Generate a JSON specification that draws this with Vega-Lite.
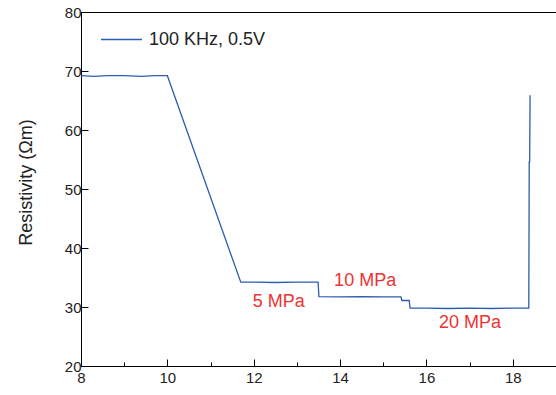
{
  "$schema": "https://vega.github.io/schema/vega-lite/v6.json",
  "autosize": "none",
  "width": 475,
  "height": 354,
  "padding": {"left": 81, "top": 12, "right": 0, "bottom": 29},
  "background": "white",
  "config": {
    "font": "Liberation Sans",
    "view": {"stroke": "black", "strokeWidth": 1},
    "axis": {"domainColor": "black", "tickColor": "black", "labelColor": "#222", "titleColor": "#222", "grid": false, "labelFontSize": 15, "titleFontSize": 18, "titleFontWeight": "normal"}
  },
  "datasets": {
    "series": [
      {"x": 8.0, "y": 69.2, "s": "100 KHz, 0.5V"},
      {"x": 8.3, "y": 69.1, "s": "100 KHz, 0.5V"},
      {"x": 8.6, "y": 69.2, "s": "100 KHz, 0.5V"},
      {"x": 9.0, "y": 69.2, "s": "100 KHz, 0.5V"},
      {"x": 9.4, "y": 69.1, "s": "100 KHz, 0.5V"},
      {"x": 9.7, "y": 69.2, "s": "100 KHz, 0.5V"},
      {"x": 10.0, "y": 69.2, "s": "100 KHz, 0.5V"},
      {"x": 11.7, "y": 34.2, "s": "100 KHz, 0.5V"},
      {"x": 12.0, "y": 34.2, "s": "100 KHz, 0.5V"},
      {"x": 12.5, "y": 34.15, "s": "100 KHz, 0.5V"},
      {"x": 13.0, "y": 34.2, "s": "100 KHz, 0.5V"},
      {"x": 13.49, "y": 34.2, "s": "100 KHz, 0.5V"},
      {"x": 13.51, "y": 31.75, "s": "100 KHz, 0.5V"},
      {"x": 14.0, "y": 31.7, "s": "100 KHz, 0.5V"},
      {"x": 14.5, "y": 31.75, "s": "100 KHz, 0.5V"},
      {"x": 15.0, "y": 31.7, "s": "100 KHz, 0.5V"},
      {"x": 15.41, "y": 31.7, "s": "100 KHz, 0.5V"},
      {"x": 15.43, "y": 31.1, "s": "100 KHz, 0.5V"},
      {"x": 15.6, "y": 31.1, "s": "100 KHz, 0.5V"},
      {"x": 15.62, "y": 29.8, "s": "100 KHz, 0.5V"},
      {"x": 16.0, "y": 29.8, "s": "100 KHz, 0.5V"},
      {"x": 16.5, "y": 29.75, "s": "100 KHz, 0.5V"},
      {"x": 17.0, "y": 29.8, "s": "100 KHz, 0.5V"},
      {"x": 17.5, "y": 29.75, "s": "100 KHz, 0.5V"},
      {"x": 18.0, "y": 29.8, "s": "100 KHz, 0.5V"},
      {"x": 18.37, "y": 29.8, "s": "100 KHz, 0.5V"},
      {"x": 18.38, "y": 54.6, "s": "100 KHz, 0.5V"},
      {"x": 18.39, "y": 54.6, "s": "100 KHz, 0.5V"},
      {"x": 18.4, "y": 65.9, "s": "100 KHz, 0.5V"}
    ],
    "labels": [
      {"x": 12.58, "y": 30.9, "t": "5 MPa"},
      {"x": 14.58, "y": 34.4, "t": "10 MPa"},
      {"x": 17.01, "y": 27.3, "t": "20 MPa"}
    ]
  },
  "layer": [
    {
      "data": {"name": "series"},
      "mark": {"type": "line", "strokeWidth": 1.3, "clip": true},
      "encoding": {
        "x": {
          "field": "x", "type": "quantitative",
          "scale": {"domain": [8, 19], "nice": false, "zero": false},
          "axis": {
            "title": null, "values": [8, 9, 10, 11, 12, 13, 14, 15, 16, 17, 18, 19],
            "labelExpr": "datum.value % 2 === 0 ? datum.label : ''",
            "tickSize": {"condition": {"test": "datum.value % 2 === 0", "value": -7}, "value": -4},
            "labelPadding": 11, "labelFlush": false
          }
        },
        "y": {
          "field": "y", "type": "quantitative",
          "scale": {"domain": [20, 80], "nice": false, "zero": false},
          "axis": {
            "title": "Resistivity (Ωm)",
            "values": [20, 25, 30, 35, 40, 45, 50, 55, 60, 65, 70, 75, 80],
            "labelExpr": "datum.value % 10 === 0 ? datum.label : ''",
            "tickSize": {"condition": {"test": "datum.value % 10 === 0", "value": -7}, "value": -4},
            "labelPadding": 7, "labelFlush": false,
            "titleX": -55, "titleY": 170, "titleBaseline": "middle", "titleAlign": "center", "titleAngle": -90
          }
        },
        "color": {
          "field": "s", "type": "nominal",
          "scale": {"range": ["#2d5cb0"]},
          "legend": {"title": null, "orient": "none", "legendX": 19, "legendY": 6, "labelFontSize": 18, "labelColor": "#222", "symbolType": "stroke", "symbolSize": 1681, "symbolStrokeWidth": 1.3, "labelOffset": 6, "padding": 0}
        }
      }
    },
    {
      "data": {"name": "labels"},
      "mark": {"type": "text", "fontSize": 18, "color": "#ee3333", "align": "center", "baseline": "middle"},
      "encoding": {
        "x": {"field": "x", "type": "quantitative"},
        "y": {"field": "y", "type": "quantitative"},
        "text": {"field": "t"}
      }
    }
  ]
}
